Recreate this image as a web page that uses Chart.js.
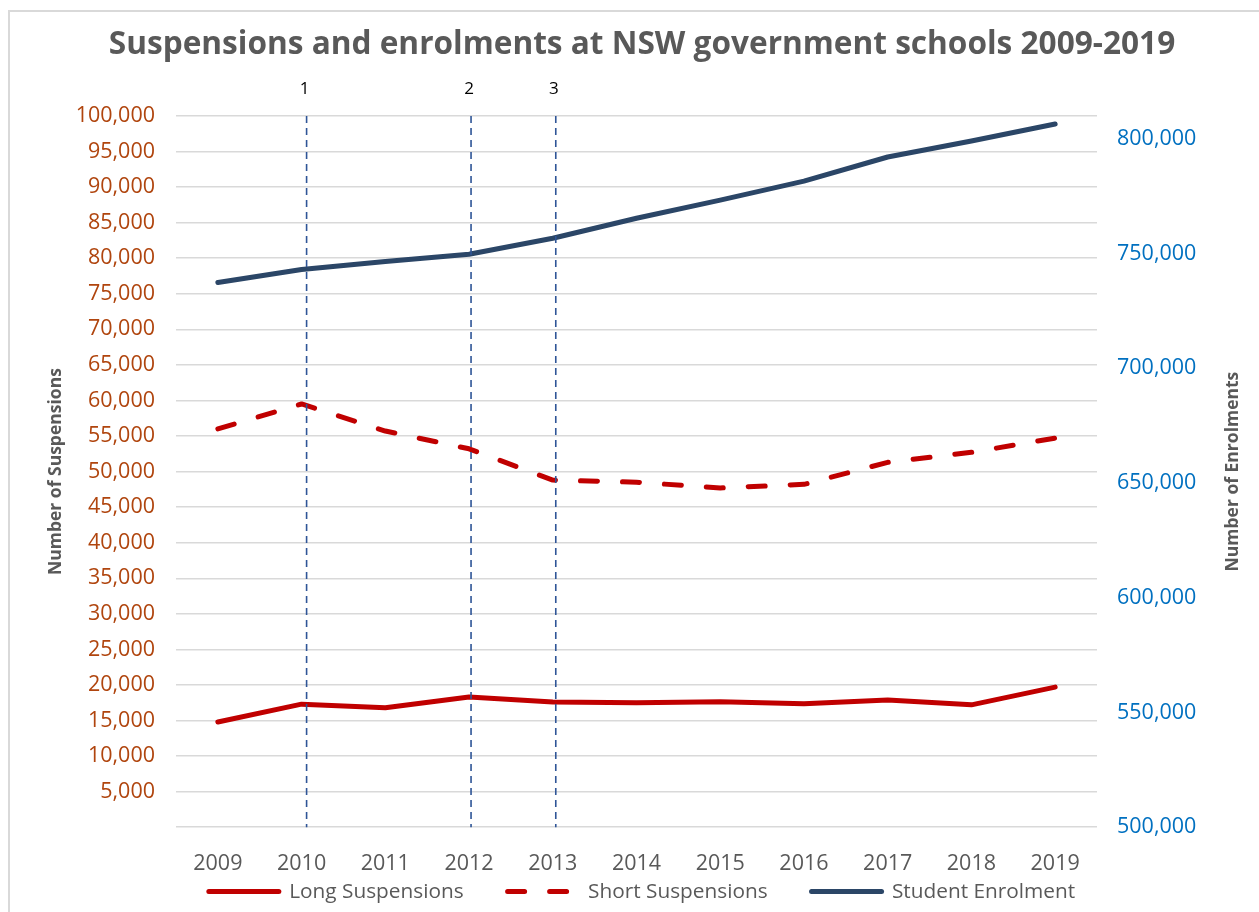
<!DOCTYPE html>
<html>
<head>
<meta charset="utf-8">
<script src="https://cdn.jsdelivr.net/npm/chart.js@4.4.1/dist/chart.umd.min.js"></script>
<style>
  html, body { margin: 0; padding: 0; background: #fff; }
  #frame { position: absolute; left: 8px; top: 10px; width: 1300px; height: 960px; border: 2px solid #d9d9d9; box-sizing: border-box; }
  #wrap { position: absolute; left: 0; top: 0; width: 1259px; height: 912px; }
</style>
</head>
<body>
<div id="frame"></div>
<div id="wrap"><canvas id="chart"></canvas></div>
<script>
const years = ['2009', '2010', '2011', '2012', '2013', '2014', '2015', '2016', '2017', '2018', '2019'];
const longSuspensions = [14800, 17300, 16800, 18300, 17600, 17500, 17650, 17350, 17900, 17200, 19700];
const shortSuspensions = [56000, 59500, 55700, 53200, 48800, 48500, 47700, 48200, 51300, 52700, 54700];
const enrolments = [737400, 743100, 746600, 749700, 756700, 765400, 773300, 781600, 792100, 799100, 806500];
const enrolmentTicks = [500000, 550000, 600000, 650000, 700000, 750000, 800000];

// dashed vertical markers
const markerYears = ['2010', '2012', '2013'];
const markerLabels = ['1', '2', '3'];

const FONT = "'Open Sans', sans-serif";
const GREY = '#595959';

const markersPlugin = {
    id: 'markers',
    afterDatasetsDraw(chart) {
        const { ctx, chartArea, scales } = chart;
        const nudge = [5, 2, 3]; // the markers sit a touch right of the year in the original
        ctx.save();
        ctx.strokeStyle = '#2f5597';
        ctx.lineWidth = 1.6;
        ctx.setLineDash([7, 5]);
        ctx.fillStyle = '#000';
        ctx.font = '17px ' + FONT;
        ctx.textAlign = 'center';
        ctx.textBaseline = 'middle';
        markerYears.forEach((yr, i) => {
            const x = scales.x.getPixelForValue(years.indexOf(yr)) + nudge[i];
            ctx.beginPath();
            ctx.moveTo(x, chartArea.top);
            ctx.lineTo(x, chartArea.bottom);
            ctx.stroke();
            ctx.fillText(markerLabels[i], x - 2, 89);
        });
        ctx.restore();
    }
};

// right axis title reads bottom-to-top, like the left one
const rightTitlePlugin = {
    id: 'rightTitle',
    afterDraw(chart) {
        const { ctx, chartArea } = chart;
        ctx.save();
        ctx.translate(1233, (chartArea.top + chartArea.bottom) / 2);
        ctx.rotate(-Math.PI / 2);
        ctx.font = 'bold 17.5px ' + FONT;
        ctx.fillStyle = GREY;
        ctx.textAlign = 'center';
        ctx.textBaseline = 'middle';
        ctx.fillText('Number of Enrolments', 0, 0);
        ctx.restore();
    }
};

new Chart(document.getElementById('chart'), {
    type: 'line',
    data: {
        labels: years,
        datasets: [{
            label: 'Long Suspensions',
            data: longSuspensions,
            yAxisID: 'y',
            borderColor: '#c00000',
            backgroundColor: '#c00000',
            borderWidth: 5,
            borderCapStyle: 'round',
            borderJoinStyle: 'round',
            pointRadius: 0,
            tension: 0
        }, {
            label: 'Short Suspensions',
            data: shortSuspensions,
            yAxisID: 'y',
            borderColor: '#c00000',
            backgroundColor: '#c00000',
            borderWidth: 5,
            borderDash: [17, 25],
            borderCapStyle: 'round',
            borderJoinStyle: 'round',
            pointRadius: 0,
            tension: 0
        }, {
            label: 'Student Enrolment',
            data: enrolments,
            yAxisID: 'y1',
            borderColor: '#2b4667',
            backgroundColor: '#2b4667',
            borderWidth: 5,
            borderCapStyle: 'round',
            borderJoinStyle: 'round',
            pointRadius: 0,
            tension: 0
        }]
    },
    options: {
        responsive: true,
        maintainAspectRatio: false,
        animation: false,
        layout: { padding: { left: 40, right: 15, top: 0, bottom: 0 } },
        scales: {
            x: {
                offset: true,
                grid: { display: false },
                border: { display: false },
                ticks: { color: GREY, font: { family: FONT, size: 21.5 }, padding: 16, maxRotation: 0 },
                afterFit(scale) {
                    // thin axis box so the wide legend sits low; let the labels draw outside it
                    scale.height = 10;
                    scale._computeLabelArea = () => null;
                }
            },
            y: {
                position: 'left',
                min: 0,
                max: 100000,
                grid: { color: '#d9d9d9', lineWidth: 1.5, drawTicks: false },
                border: { display: false },
                ticks: {
                    stepSize: 5000,
                    color: '#b0450e',
                    font: { family: FONT, size: 21.5 },
                    padding: 21,
                    callback: (v) => v === 0 ? '' : v.toLocaleString('en-US')
                },
                title: {
                    display: true,
                    text: 'Number of Suspensions',
                    color: GREY,
                    font: { family: FONT, size: 17.5, weight: 'bold' },
                    padding: { top: 6, bottom: 0 }
                },
                afterFit(scale) { scale.width = 136; }
            },
            y1: {
                position: 'right',
                min: 500000,
                max: 810000,
                grid: { drawOnChartArea: false, drawTicks: false },
                border: { display: false },
                afterBuildTicks(scale) {
                    scale.ticks = enrolmentTicks.map(v => ({ value: v }));
                },
                ticks: {
                    color: '#0070c0',
                    font: { family: FONT, size: 21.5 },
                    padding: 20,
                    callback: (v) => v.toLocaleString('en-US')
                },
                afterFit(scale) { scale.width = 147; }
            }
        },
        plugins: {
            title: {
                display: true,
                text: 'Suspensions and enrolments at NSW government schools 2009-2019',
                color: GREY,
                font: { family: FONT, size: 31.6, weight: 'bold' },
                padding: { top: 26, bottom: 52 }
            },
            legend: {
                position: 'bottom',
                labels: {
                    usePointStyle: true,
                    pointStyle: 'line',
                    pointStyleWidth: 70,
                    color: GREY,
                    font: { family: FONT, size: 20.8 },
                    padding: 44,
                    generateLabels(chart) {
                        // point style legend loses the dash, so copy it back from the dataset
                        const items = Chart.defaults.plugins.legend.labels.generateLabels(chart);
                        items.forEach(item => {
                            const ds = chart.data.datasets[item.datasetIndex];
                            item.lineDash = ds.borderDash || [];
                            item.lineCap = 'round';
                            item.lineWidth = 5;
                        });
                        return items;
                    }
                }
            },
            tooltip: { enabled: false }
        }
    },
    plugins: [markersPlugin, rightTitlePlugin]
});
</script>
</body>
</html>
